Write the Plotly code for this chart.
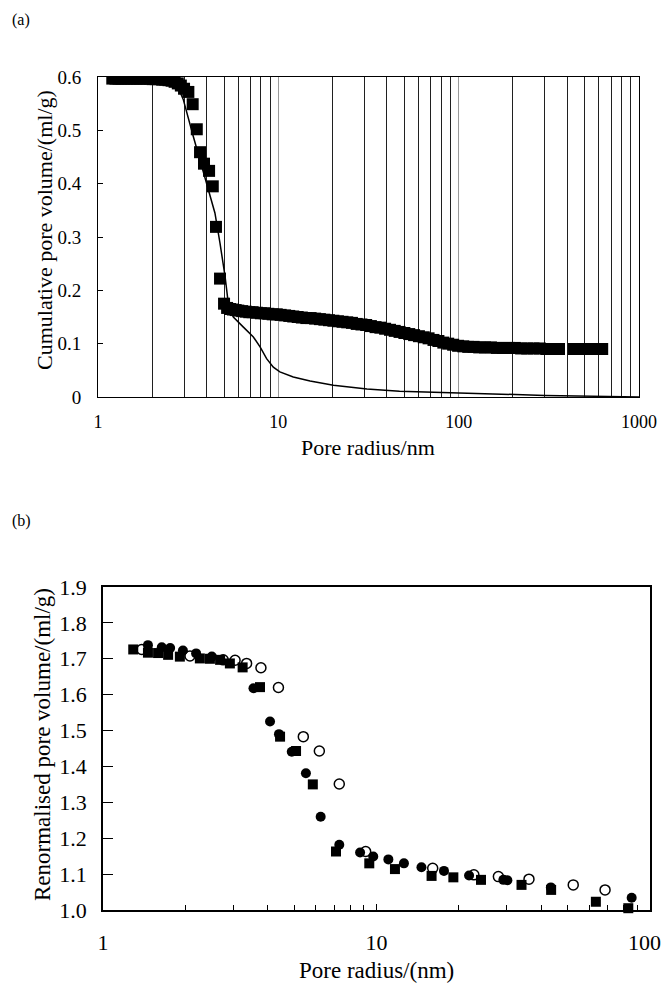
import plotly.graph_objects as go

# page body has an 8px margin, so the figure is drawn from (8, 8)
OFF = 8
W, H = 672 - OFF, 983 - OFF
FONT = "Liberation Serif, Times New Roman, serif"

# ---------------- (a) data ----------------
a_sq_r = [1.20, 1.25, 1.30, 1.35, 1.40, 1.46, 1.52, 1.58, 1.64, 1.71, 1.78, 1.85,
          1.93, 2.01, 2.09, 2.18, 2.27, 2.36, 2.46, 2.56, 2.66, 2.77, 2.88, 3.00,
          3.17, 3.35, 3.53, 3.68, 3.87, 4.13, 4.33, 4.51, 4.75, 5.00,
          5.2, 5.4, 5.6, 5.8, 6.0, 6.3, 6.6, 6.9, 7.2, 7.6, 8.0, 8.4, 8.8, 9.3, 9.8,
          10.3, 10.9, 11.5, 12.1, 12.8, 13.5, 14.3, 15.1, 16.0, 17.0, 18.0, 19.1,
          20.2, 21.4, 22.7, 24.1, 25.6, 27.2, 28.9, 30.7, 32.6, 34.6, 36.8, 39.1,
          41.6, 44.2, 47.0, 50.0, 53.2, 56.6, 60.2, 64.0, 68.1, 72.5, 77.2, 82.2,
          87.5, 93.2, 99.3, 106, 113, 121, 130, 140, 151, 163, 176, 190, 205, 222,
          240, 260, 282, 306, 332, 360, 435, 480, 530, 585, 625]
a_sq_v = [0.597, 0.597, 0.597, 0.597, 0.597, 0.597, 0.597, 0.597, 0.597, 0.597, 0.597, 0.597,
          0.597, 0.596, 0.596, 0.596, 0.595, 0.595, 0.594, 0.593, 0.591, 0.588, 0.584, 0.578,
          0.572, 0.549, 0.502, 0.459, 0.4375, 0.424, 0.395, 0.319, 0.222, 0.175,
          0.167, 0.165, 0.164, 0.163, 0.162, 0.161, 0.160, 0.159, 0.159, 0.158, 0.157, 0.157, 0.156, 0.155, 0.155,
          0.154, 0.153, 0.152, 0.151, 0.150, 0.149, 0.148, 0.148, 0.147, 0.146, 0.145, 0.144,
          0.143, 0.142, 0.141, 0.140, 0.139, 0.137, 0.136, 0.135, 0.133, 0.131, 0.130, 0.128,
          0.126, 0.124, 0.122, 0.120, 0.118, 0.116, 0.114, 0.112, 0.110, 0.107, 0.105, 0.102,
          0.100, 0.098, 0.096, 0.095, 0.094, 0.094, 0.093, 0.093, 0.093, 0.092, 0.092, 0.092, 0.092, 0.091,
          0.091, 0.091, 0.091, 0.090, 0.090, 0.090, 0.090, 0.090, 0.090, 0.090, 0.090]

a_line_r = [1.2, 1.5, 1.8, 2.0, 2.3, 2.6, 2.8, 2.97, 3.17, 3.38, 3.68, 4.0, 4.2, 4.45,
            4.75, 5.07, 5.28, 5.63, 6.4, 7.27, 7.92, 8.61, 9.38, 10.2, 12.1, 15.0,
            20.2, 31.0, 47.0, 70.0, 102, 200, 300, 450, 680, 1000]
a_line_v = [0.599, 0.599, 0.598, 0.597, 0.594, 0.588, 0.578, 0.558, 0.525, 0.488, 0.444, 0.400, 0.375, 0.345,
            0.288, 0.225, 0.175, 0.150, 0.131, 0.1125, 0.094, 0.072, 0.056, 0.047, 0.0375, 0.030,
            0.022, 0.015, 0.011, 0.009, 0.008, 0.005, 0.003, 0.002, 0.001, 0.000]

a_major = [1, 10, 100, 1000]
a_xtext = ["1", "10", "100", "1000"]
a_minor = [2, 3, 4, 5, 6, 7, 8, 9, 20, 30, 40, 50, 60, 70, 80, 90,
           200, 300, 400, 500, 600, 700, 800, 900]
a_yticks = [0, 0.1, 0.2, 0.3, 0.4, 0.5, 0.6]
a_ytext = ["0", "0.1", "0.2", "0.3", "0.4", "0.5", "0.6"]

# ---------------- (b) data ----------------
b_sq_r = [1.29, 1.46, 1.59, 1.73, 1.91, 2.26, 2.46, 2.68, 2.91, 3.24, 3.75, 4.44, 5.08,
          5.85, 7.11, 9.41, 11.68, 15.9, 19.1, 24.1, 33.9, 43.5, 63.4, 83.3]
b_sq_v = [1.726, 1.717, 1.716, 1.711, 1.706, 1.701, 1.700, 1.697, 1.687, 1.676, 1.621, 1.483, 1.443,
          1.350, 1.163, 1.130, 1.114, 1.095, 1.091, 1.084, 1.070, 1.056, 1.023, 1.005]

b_fc_r = [1.46, 1.64, 1.76, 1.96, 2.19, 2.50, 3.55, 4.08, 4.40, 4.90, 5.52, 6.25, 7.31,
          8.71, 9.73, 11.05, 12.6, 14.6, 17.65, 21.8, 29.1, 30.1, 43.4, 85.7]
b_fc_v = [1.738, 1.732, 1.730, 1.723, 1.715, 1.706, 1.618, 1.525, 1.490, 1.441, 1.381, 1.260, 1.182,
          1.160, 1.149, 1.141, 1.130, 1.119, 1.109, 1.096, 1.084, 1.083, 1.063, 1.034]

b_oc_r = [1.385, 2.08, 2.75, 3.04, 3.35, 3.78, 4.38, 5.40, 6.18, 7.31, 9.13, 16.05, 22.7,
          27.9, 36.1, 52.4, 68.5]
b_oc_v = [1.726, 1.708, 1.697, 1.696, 1.687, 1.675, 1.620, 1.483, 1.443, 1.351, 1.163, 1.116, 1.098,
          1.093, 1.086, 1.070, 1.056]

b_major = [1, 10, 100]
# the last label sits slightly left of its tick in the original, padded with no-break spaces
b_xtext = ["1", "10", "100\u00a0\u00a0"]
b_minor = [2, 3, 4, 5, 6, 7, 8, 9, 20, 30, 40, 50, 60, 70, 80, 90]
b_yticks = [1.0, 1.1, 1.2, 1.3, 1.4, 1.5, 1.6, 1.7, 1.8, 1.9]
b_ytext = ["1.0", "1.1", "1.2", "1.3", "1.4", "1.5", "1.6", "1.7", "1.8", "1.9"]


# ---------------- figure ----------------
def px_x(p):
    return (p - OFF) / W


def px_y(p):
    return 1 - (p - OFF) / H


fig = go.Figure()

fig.add_trace(go.Scatter(x=a_line_r, y=a_line_v, mode="lines",
                         line=dict(color="black", width=1.5),
                         xaxis="x", yaxis="y", showlegend=False))
fig.add_trace(go.Scatter(x=a_sq_r, y=a_sq_v, mode="markers",
                         marker=dict(symbol="square", size=12, color="black"),
                         xaxis="x", yaxis="y", showlegend=False))

fig.add_trace(go.Scatter(x=b_oc_r, y=b_oc_v, mode="markers",
                         marker=dict(symbol="circle", size=10, color="white",
                                     line=dict(color="black", width=1.5)),
                         xaxis="x2", yaxis="y2", showlegend=False, cliponaxis=False))
fig.add_trace(go.Scatter(x=b_sq_r, y=b_sq_v, mode="markers",
                         marker=dict(symbol="square", size=10, color="black"),
                         xaxis="x2", yaxis="y2", showlegend=False, cliponaxis=False))
fig.add_trace(go.Scatter(x=b_fc_r, y=b_fc_v, mode="markers",
                         marker=dict(symbol="circle", size=10, color="black"),
                         xaxis="x2", yaxis="y2", showlegend=False, cliponaxis=False))

fig.update_layout(
    width=W, height=H,
    margin=dict(l=0, r=0, t=0, b=0),
    paper_bgcolor="white", plot_bgcolor="white",
    font=dict(family=FONT, color="black"),
    xaxis=dict(type="log", domain=[px_x(98), px_x(639)], range=[0, 3],
               anchor="y", tickmode="array", tickvals=a_major, ticktext=a_xtext,
               showgrid=True, gridcolor="#9a9a9a", gridwidth=1,
               minor=dict(tickvals=a_minor, showgrid=True, gridcolor="#202020", gridwidth=1, ticks=""),
               ticks="", showline=True, linecolor="black", linewidth=1, mirror=True,
               tickfont=dict(size=18, family=FONT), ticklabelstandoff=8,
               ticklabeloverflow="allow",
               zeroline=False, automargin=False),
    yaxis=dict(domain=[px_y(397), px_y(77)], range=[0, 0.6], anchor="x",
               tickmode="array", tickvals=a_yticks, ticktext=a_ytext,
               showgrid=False, ticks="inside", ticklen=5, tickcolor="black",
               showline=True, linecolor="black", linewidth=1, mirror=True,
               tickfont=dict(size=19, family=FONT), ticklabelstandoff=12,
               zeroline=False, automargin=False),
    xaxis2=dict(type="log", domain=[px_x(103), px_x(650)], range=[0, 2],
                anchor="y2", tickmode="array", tickvals=b_major, ticktext=b_xtext,
                showgrid=False, ticks="inside", ticklen=6, tickcolor="black",
                minor=dict(tickvals=b_minor, ticks="inside", ticklen=5, tickcolor="black", showgrid=False),
                showline=True, linecolor="black", linewidth=1.5, mirror=True,
                tickfont=dict(size=22, family=FONT), ticklabelstandoff=12,
                ticklabeloverflow="allow",
                zeroline=False, automargin=False),
    yaxis2=dict(domain=[px_y(910), px_y(587)], range=[1.0, 1.9], anchor="x2",
                tickmode="array", tickvals=b_yticks, ticktext=b_ytext,
                showgrid=False, ticks="inside", ticklen=10, tickcolor="black",
                showline=True, linecolor="black", linewidth=1.5, mirror=True,
                tickfont=dict(size=22, family=FONT), ticklabelstandoff=10,
                zeroline=False, automargin=False),
)

ann = [
    dict(text="(a)", x=px_x(10), y=px_y(20), xanchor="left", yanchor="middle", size=16, angle=0),
    dict(text="(b)", x=px_x(10), y=px_y(521), xanchor="left", yanchor="middle", size=16, angle=0),
    dict(text="Cumulative pore volume/(ml/g)", x=px_x(45), y=px_y(230), xanchor="center", yanchor="middle", size=22, angle=-90),
    dict(text="Pore radius/nm", x=px_x(368), y=px_y(447), xanchor="center", yanchor="middle", size=22, angle=0),
    dict(text="Renormalised pore volume/(ml/g)", x=px_x(42), y=px_y(745), xanchor="center", yanchor="middle", size=23, angle=-90),
    dict(text="Pore radius/(nm)", x=px_x(376), y=px_y(970), xanchor="center", yanchor="middle", size=23, angle=0),
]
for a in ann:
    fig.add_annotation(text=a["text"], x=a["x"], y=a["y"], xref="paper", yref="paper",
                       xanchor=a["xanchor"], yanchor=a["yanchor"], showarrow=False,
                       textangle=a["angle"], font=dict(size=a["size"], family=FONT, color="black"))

fig.write_html("out.html")
